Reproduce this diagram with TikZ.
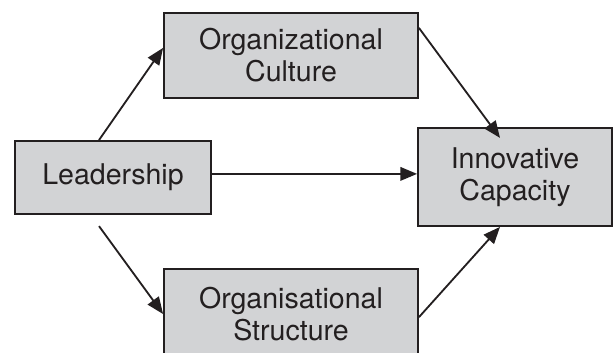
\documentclass[tikz,border=0pt]{standalone}
\usepackage{fontspec}
\setmainfont{TeX Gyre Heros}
\usetikzlibrary{arrows.meta}
\definecolor{boxgray}{RGB}{210,211,213}
\definecolor{ink}{RGB}{35,31,32}
\begin{document}
\begin{tikzpicture}[x=0.025cm,y=-0.025cm,
  factor/.style={draw=ink,fill=boxgray,line width=1.3pt,inner sep=0pt,align=center,text=ink,
    font=\fontsize{20.3}{22.7}\selectfont},
  arr/.style={draw=ink,line width=1.3pt,-{Triangle[length=0.42cm,width=0.34cm]}}]
\useasboundingbox (0,0) rectangle (615,353);
\node[factor,minimum width=254*0.025cm,minimum height=85*0.025cm] (cult) at (291,55.5) {Organizational\\Culture};
\node[factor,minimum width=196*0.025cm,minimum height=73*0.025cm] (lead) at (113,177.5) {Leadership};
\node[factor,minimum width=194*0.025cm,minimum height=98*0.025cm] (innov) at (515,177) {Innovative\\Capacity};
\node[factor,minimum width=254*0.025cm,minimum height=90*0.025cm] (struct) at (291,314) {Organisational\\Structure};
% paths of influence
\draw[arr] ([xshift=-0.35cm]lead.north) -- ([yshift=0.19cm]cult.west);
\draw[arr] ([yshift=0.69cm]cult.east) -- ([xshift=-0.375cm,yshift=-0.27cm]innov.north);
\draw[arr] ([yshift=0.09cm]lead.east) -- ([yshift=0.09cm]lead.east -| innov.west);
\draw[arr] ([xshift=-0.35cm,yshift=-0.28cm]lead.south) -- (struct.west);
\draw[arr] ([yshift=-0.08cm]struct.east) -- ([xshift=-0.375cm]innov.south);
\end{tikzpicture}
\end{document}
